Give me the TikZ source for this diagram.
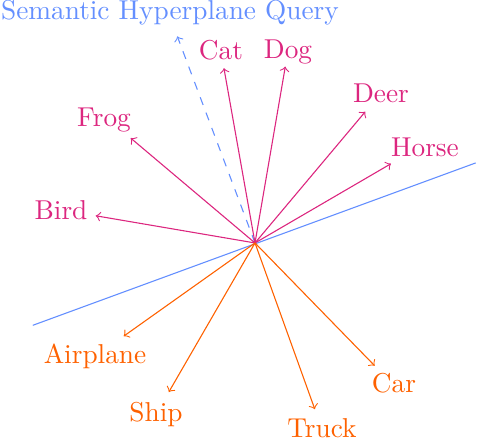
\documentclass[tikz,border=0pt]{standalone}
\definecolor{query}{HTML}{648FFF}
\definecolor{animal}{HTML}{DC267F}
\definecolor{vehicle}{HTML}{FE6100}

\begin{document}
\begin{tikzpicture}[>=to,label/.style={anchor=base}]
  \useasboundingbox (-3.282,-2.535) rectangle (2.870,3.127);
  \coordinate (o) at (0,0);

  % hyperplane and its normal
  \coordinate (hypA) at (-2.86,-1.06);
  \coordinate (hypB) at (2.84,1.03);
  \draw[query] (hypA) -- (hypB);
  \coordinate (normal) at (-1.00,2.66);
  \draw[query,dashed,->] (o) -- (normal);
  \node[query,label] (title) at (-1.094,2.870) {Semantic Hyperplane Query};

  % animal classes
  \foreach \n/\t/\x/\y/\lx/\ly in {
      cat/Cat/-0.40/2.25/-0.438/2.355,
      dog/Dog/0.39/2.27/0.425/2.368,
      deer/Deer/1.42/1.69/1.622/1.802,
      horse/Horse/1.75/1.02/2.188/1.107,
      frog/Frog/-1.60/1.35/-1.943/1.493,
      bird/Bird/-2.05/0.35/-2.497/0.296}{
    \coordinate (\n) at (\x,\y);
    \node[animal,label] (\n-name) at (\lx,\ly) {\t};
    \draw[animal,->] (o) -- (\n);
  }

  % vehicle classes
  \foreach \n/\t/\x/\y/\lx/\ly in {
      airplane/Airplane/-1.69/-1.20/-2.059/-1.557,
      ship/Ship/-1.11/-1.92/-1.274/-2.304,
      truck/Truck/0.77/-2.14/0.862/-2.510,
      car/Car/1.54/-1.58/1.789/-1.931}{
    \coordinate (\n) at (\x,\y);
    \node[vehicle,label] (\n-name) at (\lx,\ly) {\t};
    \draw[vehicle,->] (o) -- (\n);
  }
\end{tikzpicture}
\end{document}
